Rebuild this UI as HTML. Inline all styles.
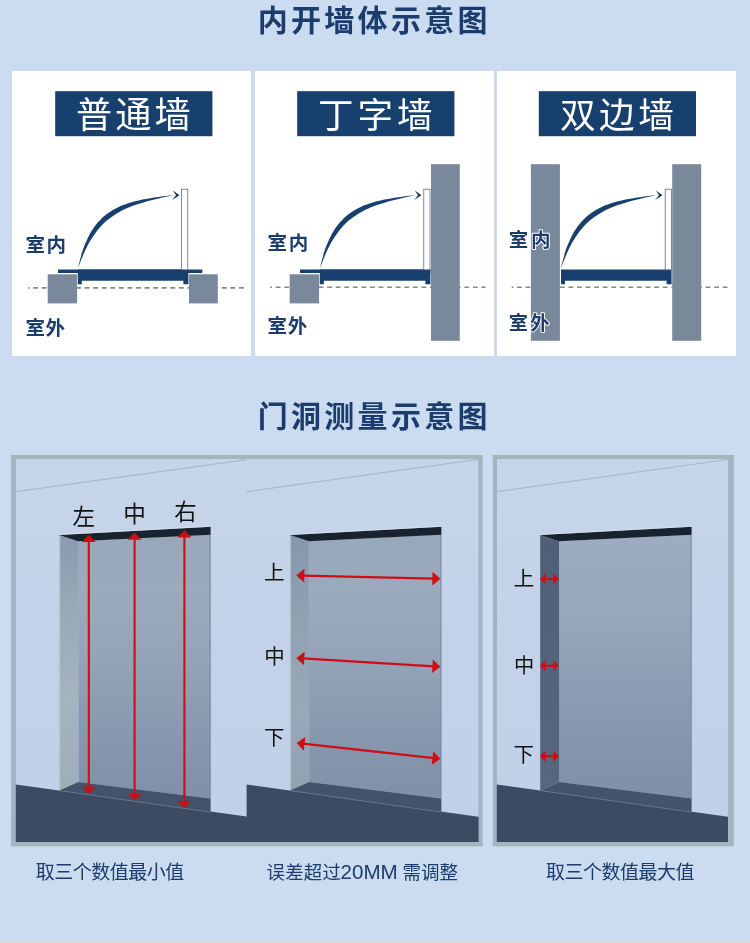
<!DOCTYPE html>
<html><head><meta charset="utf-8"><title>diagram</title>
<style>html,body{margin:0;padding:0;background:#cbdcf1;font-family:"Liberation Sans",sans-serif}svg{display:block;filter:blur(0.35px)}text{font-family:"Liberation Sans","Noto Sans CJK SC",sans-serif}</style>
</head><body><svg width="750" height="943" viewBox="0 0 750 943"><defs>
<linearGradient id="wall" x1="0" y1="0" x2="0" y2="1"><stop offset="0" stop-color="#c6d5ea"/><stop offset="0.5" stop-color="#c3d2e8"/><stop offset="1" stop-color="#c0d0e6"/></linearGradient>
<linearGradient id="back" x1="0" y1="0" x2="0" y2="1"><stop offset="0" stop-color="#98a7ba"/><stop offset="0.2" stop-color="#9baabc"/><stop offset="0.45" stop-color="#95a4b8"/><stop offset="0.75" stop-color="#8898ae"/><stop offset="1" stop-color="#8090a7"/></linearGradient>
<linearGradient id="rev" x1="0" y1="0" x2="0" y2="1"><stop offset="0" stop-color="#8a9ab0"/><stop offset="0.3" stop-color="#9aa9b9"/><stop offset="0.65" stop-color="#a5b4be"/><stop offset="1" stop-color="#9eadb8"/></linearGradient>
<linearGradient id="revd" x1="0" y1="0" x2="0" y2="1"><stop offset="0" stop-color="#4f5f77"/><stop offset="1" stop-color="#57677e"/></linearGradient>
<linearGradient id="back3" x1="0" y1="0" x2="0" y2="1"><stop offset="0" stop-color="#9dacc0"/><stop offset="0.3" stop-color="#98a7bc"/><stop offset="0.7" stop-color="#8898ae"/><stop offset="1" stop-color="#7f8fa6"/></linearGradient>
<linearGradient id="rev2" x1="0" y1="0" x2="0" y2="1"><stop offset="0" stop-color="#8696ad"/><stop offset="0.4" stop-color="#93a3b5"/><stop offset="0.7" stop-color="#98a8b7"/><stop offset="1" stop-color="#92a1b1"/></linearGradient>
</defs><rect width="750" height="943" fill="#cbdcf1"/>
<rect y="941.7" width="750" height="1.3" fill="#d9dad4"/>
<rect x="12" y="71" width="239" height="285" fill="#fff"/>
<rect x="255" y="71" width="239" height="285" fill="#fff"/>
<rect x="497" y="71" width="239" height="285" fill="#fff"/>
<circle cx="28.7" cy="287.9" r="0.9" fill="#878787"/>
<line x1="33.2" y1="287.9" x2="245" y2="287.9" stroke="#878787" stroke-width="1.6" stroke-dasharray="4.8 3.775"/>
<rect x="47.7" y="274.3" width="29.4" height="29.1" fill="#7a889c"/>
<rect x="189" y="274.3" width="28.8" height="29.1" fill="#7a889c"/>
<path d="M77.8,269.5 H188.4 V284.3 H183.4 V280.8 H81.8 V284.3 H77.8 Z" fill="#17406f"/>
<rect x="58" y="269.5" width="144.3" height="3.5" fill="#17406f"/>
<rect x="181.6" y="189.2" width="6.2" height="80.6" fill="#fff" stroke="#586272" stroke-width="0.75"/>
<path transform="translate(0 0)" d="M78.1,267.2 C91.9,208.5 119.3,201.3 172,195.2 L172.6,195.35 L172,195.6 C122.7,206.1 97.3,214.2 78.6,266.6 Z" fill="#17406f"/>
<path transform="translate(0 0)" d="M172.9,190.6 L179.4,195.2 L172.2,199.9 L176.0,195.2 Z" fill="#14305f"/>
<circle cx="271.2" cy="287.2" r="0.9" fill="#878787"/>
<line x1="275.7" y1="287.2" x2="485.5" y2="287.2" stroke="#878787" stroke-width="1.6" stroke-dasharray="4.8 3.775"/>
<rect x="289.7" y="274.3" width="29.4" height="29.1" fill="#7a889c"/>
<rect x="431" y="164.2" width="28.8" height="176.6" fill="#7a889c"/>
<path d="M319.8,269.5 H430.4 V284.3 H425.4 V280.8 H323.8 V284.3 H319.8 Z" fill="#17406f"/>
<rect x="300" y="269.5" width="130.4" height="3.5" fill="#17406f"/>
<rect x="423.8" y="189.2" width="6.2" height="80.6" fill="#fff" stroke="#586272" stroke-width="0.75"/>
<path transform="translate(242 0)" d="M78.1,267.2 C91.9,208.5 119.3,201.3 172,195.2 L172.6,195.35 L172,195.6 C122.7,206.1 97.3,214.2 78.6,266.6 Z" fill="#17406f"/>
<path transform="translate(242 0)" d="M172.9,190.6 L179.4,195.2 L172.2,199.9 L176.0,195.2 Z" fill="#14305f"/>
<circle cx="512.5" cy="287.2" r="0.9" fill="#878787"/>
<line x1="517" y1="287.2" x2="727.5" y2="287.2" stroke="#878787" stroke-width="1.6" stroke-dasharray="4.8 3.775"/>
<rect x="530.9" y="164.2" width="29" height="176.6" fill="#7a889c"/>
<rect x="672.2" y="164.2" width="29" height="176.6" fill="#7a889c"/>
<path d="M561,269.5 H671.6 V284.3 H666.6 V280.8 H565 V284.3 H561 Z" fill="#17406f"/>
<rect x="665.2" y="189.2" width="6.2" height="80.6" fill="#fff" stroke="#586272" stroke-width="0.75"/>
<path transform="translate(483 0)" d="M78.1,267.2 C91.9,208.5 119.3,201.3 172,195.2 L172.6,195.35 L172,195.6 C122.7,206.1 97.3,214.2 78.6,266.6 Z" fill="#17406f"/>
<path transform="translate(483 0)" d="M172.9,190.6 L179.4,195.2 L172.2,199.9 L176.0,195.2 Z" fill="#14305f"/>
<rect x="55.2" y="91.2" width="157.2" height="45" fill="#17406f"/>
<rect x="297.2" y="91.2" width="157.2" height="45" fill="#17406f"/>
<rect x="538.8" y="91.2" width="157.2" height="45" fill="#17406f"/>
<rect x="11" y="455" width="471.5" height="391.2" fill="#a3b3c2"/>
<rect x="492.8" y="455" width="241" height="391.2" fill="#a3b3c2"/>
<rect x="11" y="455" width="471.5" height="4" fill="#a4b5bc"/>
<rect x="11" y="842" width="471.5" height="4.2" fill="#a6b6be"/>
<rect x="492.8" y="455" width="241" height="4" fill="#a4b5bc"/>
<rect x="492.8" y="842" width="241" height="4.2" fill="#a6b6be"/>
<rect x="16" y="459" width="462.4" height="383" fill="url(#wall)"/>
<rect x="497" y="459" width="231" height="383" fill="url(#wall)"/>
<rect x="16" y="817.5" width="462.4" height="24.5" fill="#3c4b62"/>
<g transform="translate(0 0)"><line x1="16" y1="491.6" x2="246.6" y2="459.547" stroke="#aab9cd" stroke-width="1.2"/><polygon points="15.8,784.5 246.6,816.623 246.6,842 15.8,842" fill="#3c4b62"/><polygon points="78,541.2 210.6,534.6 210.6,798.6 78.4,782" fill="url(#back)"/><polygon points="59.2,535 78,541.2 78.4,782 59.2,790.6" fill="url(#rev)"/><line x1="59.6" y1="536" x2="59.6" y2="790" stroke="#b6c3ce" stroke-width="1.3"/><line x1="210.1" y1="535" x2="210.1" y2="798.4" stroke="#7a8aa0" stroke-width="1"/><polygon points="59.2,535 210.6,526.8 210.6,534.8 78,541.3" fill="#19232f"/><line x1="59.2" y1="534.5" x2="210.6" y2="526.3" stroke="#dde6f1" stroke-width="0.8" opacity="0.85"/><polygon points="59.2,790.6 78.4,782 210.6,798.6 210.6,812.2" fill="#45536a"/><line x1="59.2" y1="790.6" x2="210.6" y2="812.2" stroke="#68758a" stroke-width="0.9"/></g>
<g transform="translate(230.8 0)"><line x1="16" y1="491.6" x2="247.6" y2="459.408" stroke="#aab9cd" stroke-width="1.2"/><polygon points="15.8,784.5 247.6,816.762 247.6,842 15.8,842" fill="#3c4b62"/><polygon points="78,541.2 210.6,534.6 210.6,798.6 78.4,782" fill="url(#back)"/><polygon points="59.2,535 78,541.2 78.4,782 59.2,790.6" fill="url(#rev2)"/><line x1="59.6" y1="536" x2="59.6" y2="790" stroke="#b6c3ce" stroke-width="1.3"/><line x1="210.1" y1="535" x2="210.1" y2="798.4" stroke="#7a8aa0" stroke-width="1"/><polygon points="59.2,535 210.6,526.8 210.6,534.8 78,541.3" fill="#19232f"/><line x1="59.2" y1="534.5" x2="210.6" y2="526.3" stroke="#dde6f1" stroke-width="0.8" opacity="0.85"/><polygon points="59.2,790.6 78.4,782 210.6,798.6 210.6,812.2" fill="#45536a"/><line x1="59.2" y1="790.6" x2="210.6" y2="812.2" stroke="#68758a" stroke-width="0.9"/></g>
<g transform="translate(481 0)"><line x1="16" y1="491.6" x2="247" y2="459.491" stroke="#aab9cd" stroke-width="1.2"/><polygon points="15.8,784.5 247,816.678 247,842 15.8,842" fill="#3c4b62"/><polygon points="78,541.2 210.6,534.6 210.6,798.6 78.4,782" fill="url(#back3)"/><polygon points="59.2,535 78,541.2 78.4,782 59.2,790.6" fill="url(#revd)"/><line x1="210.1" y1="535" x2="210.1" y2="798.4" stroke="#7a8aa0" stroke-width="1"/><polygon points="59.2,535 210.6,526.8 210.6,534.8 78,541.3" fill="#19232f"/><line x1="59.2" y1="534.5" x2="210.6" y2="526.3" stroke="#dde6f1" stroke-width="0.8" opacity="0.85"/><polygon points="59.2,790.6 78.4,782 210.6,798.6 210.6,812.2" fill="#45536a"/><line x1="59.2" y1="790.6" x2="210.6" y2="812.2" stroke="#68758a" stroke-width="0.9"/></g>
<line x1="88.8" y1="539.8" x2="88.8" y2="789.2" stroke="#cc0f16" stroke-width="2.1"/>
<polygon points="88.8,534.8 81.9,542 95.7,542" fill="#cc0f16"/>
<polygon points="88.8,794.2 81.9,786.8 95.7,786.8" fill="#cc0f16"/>
<line x1="134.6" y1="537.6" x2="134.6" y2="795.8" stroke="#cc0f16" stroke-width="2.1"/>
<polygon points="134.6,532.6 127.7,539.8 141.5,539.8" fill="#cc0f16"/>
<polygon points="134.6,800.8 127.7,793.4 141.5,793.4" fill="#cc0f16"/>
<line x1="184.4" y1="535.2" x2="184.4" y2="803.4" stroke="#cc0f16" stroke-width="2.1"/>
<polygon points="184.4,530.2 177.5,537.4 191.3,537.4" fill="#cc0f16"/>
<polygon points="184.4,808.4 177.5,801 191.3,801" fill="#cc0f16"/>
<line x1="302.70" y1="575.55" x2="434.00" y2="578.65" stroke="#cc0f16" stroke-width="2.2"/>
<polygon points="296.30,575.40 304.14,582.39 304.46,568.79" fill="#cc0f16"/>
<polygon points="440.40,578.80 432.24,585.41 432.56,571.81" fill="#cc0f16"/>
<line x1="302.69" y1="658.39" x2="434.01" y2="666.41" stroke="#cc0f16" stroke-width="2.2"/>
<polygon points="296.30,658.00 303.87,665.27 304.70,651.70" fill="#cc0f16"/>
<polygon points="440.40,666.80 432.00,673.10 432.83,659.53" fill="#cc0f16"/>
<line x1="302.96" y1="743.70" x2="434.04" y2="758.10" stroke="#cc0f16" stroke-width="2.2"/>
<polygon points="296.60,743.00 303.81,750.63 305.29,737.11" fill="#cc0f16"/>
<polygon points="440.40,758.80 431.71,764.69 433.19,751.17" fill="#cc0f16"/>
<line x1="544.40" y1="579.00" x2="554.40" y2="579.00" stroke="#cc0f16" stroke-width="2.2"/>
<polygon points="540.00,579.00 545.50,584.80 545.50,573.20" fill="#cc0f16"/>
<polygon points="558.80,579.00 553.30,584.80 553.30,573.20" fill="#cc0f16"/>
<line x1="544.40" y1="665.80" x2="554.40" y2="665.80" stroke="#cc0f16" stroke-width="2.2"/>
<polygon points="540.00,665.80 545.50,671.60 545.50,660.00" fill="#cc0f16"/>
<polygon points="558.80,665.80 553.30,671.60 553.30,660.00" fill="#cc0f16"/>
<line x1="544.40" y1="756.20" x2="554.40" y2="756.20" stroke="#cc0f16" stroke-width="2.2"/>
<polygon points="540.00,756.20 545.50,762.00 545.50,750.40" fill="#cc0f16"/>
<polygon points="558.80,756.20 553.30,762.00 553.30,750.40" fill="#cc0f16"/>
<text x="257.7" y="31.1" font-size="30" font-weight="bold" fill="#1b3c6c" letter-spacing="3.3">内开墙体示意图</text>
<text x="257.7" y="426.5" font-size="30" font-weight="bold" fill="#1b3c6c" letter-spacing="3.3">门洞测量示意图</text>
<text x="76.1" y="128.35" font-size="36.2" fill="#fff" letter-spacing="3">普通墙</text>
<text x="317.9" y="128.1" font-size="35.6" fill="#fff" letter-spacing="4">丁字墙</text>
<text x="559.9" y="128" font-size="35.7" fill="#fff" letter-spacing="3.5">双边墙</text>
<text x="25.5" y="251.6" font-size="19.5" font-weight="bold" fill="#1b3c6c" letter-spacing="1.4">室内</text>
<text x="25.5" y="335" font-size="19.5" font-weight="bold" fill="#1b3c6c" letter-spacing="0.5">室外</text>
<text x="267.4" y="249.8" font-size="19.5" font-weight="bold" fill="#1b3c6c" letter-spacing="1.8">室内</text>
<text x="267.4" y="332.9" font-size="19.5" font-weight="bold" fill="#1b3c6c" letter-spacing="0.9">室外</text>
<text x="508.7" y="246.8" font-size="19.5" font-weight="bold" fill="#1b3c6c" stroke="#fff" stroke-width="1.9" stroke-linejoin="round" paint-order="stroke" letter-spacing="2.7">室内</text>
<text x="508.7" y="329.7" font-size="19.2" font-weight="bold" fill="#1b3c6c" stroke="#fff" stroke-width="1.9" stroke-linejoin="round" paint-order="stroke" letter-spacing="2.4">室外</text>
<text x="72.4" y="524.5" font-size="22.5" fill="#111">左</text>
<text x="123.2" y="522.45" font-size="22.6" fill="#111">中</text>
<text x="174.3" y="519.5" font-size="22.4" fill="#111">右</text>
<text x="264" y="579.9" font-size="20.6" fill="#111">上</text>
<text x="264.3" y="663.9" font-size="20.5" fill="#111">中</text>
<text x="263.9" y="745.2" font-size="20.4" fill="#111">下</text>
<text x="513.4" y="585.8" font-size="20.8" fill="#111">上</text>
<text x="514" y="673.3" font-size="20.3" fill="#111">中</text>
<text x="513.4" y="762.2" font-size="20.4" fill="#111">下</text>
<text x="35.8" y="879.4" font-size="19" fill="#1b3c6c" letter-spacing="-0.5">取三个数值最小值</text>
<text x="266.5" y="879.3" font-size="18.4" fill="#1b3c6c" letter-spacing="0.25">误差超过</text>
<text x="340.5" y="878.5" font-size="20.6" fill="#1b3c6c">20MM</text>
<text x="402.4" y="879.3" font-size="18.5" fill="#1b3c6c" letter-spacing="0.1">需调整</text>
<text x="546.1" y="879.4" font-size="19" fill="#1b3c6c" letter-spacing="-0.5">取三个数值最大值</text>
</svg></body></html>
